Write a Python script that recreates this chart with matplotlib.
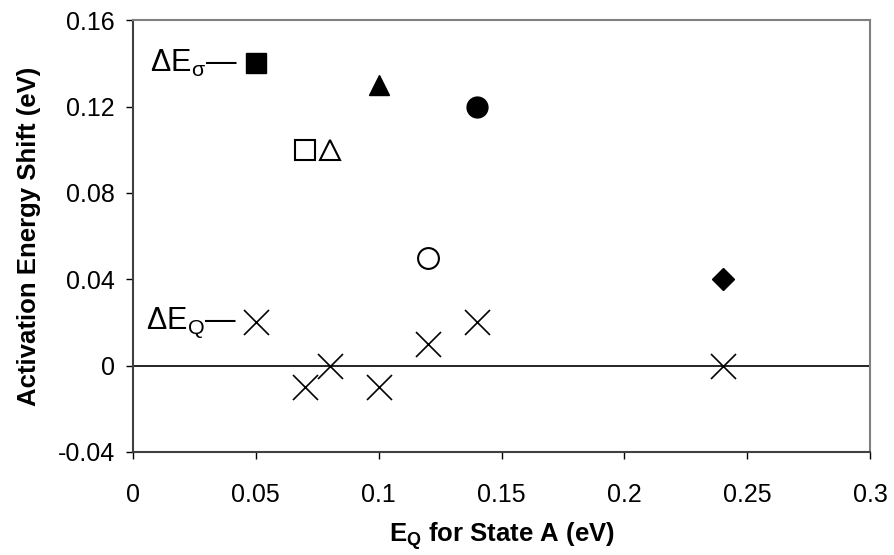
import matplotlib
matplotlib.use('Agg')
from matplotlib import pyplot as plt

plt.rcParams['font.family'] = ['Liberation Sans', 'DejaVu Sans']
plt.rcParams['mathtext.fontset'] = 'custom'
plt.rcParams['mathtext.rm'] = 'Liberation Sans'
plt.rcParams['mathtext.it'] = 'Liberation Sans'
plt.rcParams['mathtext.bf'] = 'Liberation Sans:bold'

# filled symbols (delta E sigma, one state)
filled_x = [0.05, 0.10, 0.14, 0.24]
filled_y = [0.14, 0.13, 0.12, 0.04]
filled_m = ['s', '^', 'o', 'D']

# open symbols
open_x = [0.07, 0.08, 0.12]
open_y = [0.10, 0.10, 0.05]
open_m = ['s', '^', 'o']

# delta E_Q crosses
cross_x = [0.05, 0.07, 0.08, 0.10, 0.12, 0.14, 0.24]
cross_y = [0.02, -0.01, 0.0, -0.01, 0.01, 0.02, 0.0]

xticks = [0, 0.05, 0.1, 0.15, 0.2, 0.25, 0.3]
xtick_labels = ['0', '0.05', '0.1', '0.15', '0.2', '0.25', '0.3']
yticks = [-0.04, 0, 0.04, 0.08, 0.12, 0.16]
ytick_labels = ['-0.04', '0', '0.04', '0.08', '0.12', '0.16']

fig = plt.figure(figsize=(8.95, 5.55), dpi=100)
ax = fig.add_axes([0.1486, 0.1856, 0.8235, 0.778])

ax.axhline(0, color='black', lw=1.2, zorder=1)

sizes = {'s': 15, '^': 15, 'o': 15, 'D': 11.5}
for x, y, m in zip(filled_x, filled_y, filled_m):
    ax.plot(x, y, marker=m, ms=sizes[m], color='black', ls='none', zorder=3)
for x, y, m in zip(open_x, open_y, open_m):
    ax.plot(x, y, marker=m, ms=sizes[m], mfc='white', mec='black', mew=1.5,
            ls='none', zorder=3)
ax.plot(cross_x, cross_y, marker='x', ms=18, mew=1.2, color='black',
        ls='none', zorder=3)

ax.text(0.0425, 0.14, '\u0394E$_{\\sigma}$\u2014', fontsize=22, ha='right', va='center')
ax.text(0.0425, 0.02, '\u0394E$_{\\mathrm{Q}}$\u2014', fontsize=22, ha='right', va='center')

ax.set_xlim(0, 0.3)
ax.set_ylim(-0.04, 0.16)
ax.set_xticks(xticks)
ax.set_xticklabels(xtick_labels)
ax.set_yticks(yticks)
ax.set_yticklabels(ytick_labels)
ax.tick_params(direction='out', length=5, width=1, labelsize=18, colors='black')
ax.tick_params(axis='x', pad=17)
ax.tick_params(axis='y', pad=8)
for s in ax.spines.values():
    s.set_color('#808080')
    s.set_linewidth(1.5)
ax.spines['left'].set_color('#404040')
ax.spines['bottom'].set_color('#404040')

ax.set_xlabel('E$_\\mathbf{Q}$ for State A (eV)', fontsize=18.5, fontweight='bold', labelpad=10)
ax.set_ylabel('Activation Energy Shift (eV)', fontsize=18.5, fontweight='bold', labelpad=12)

fig.savefig('out.png', dpi=100)
